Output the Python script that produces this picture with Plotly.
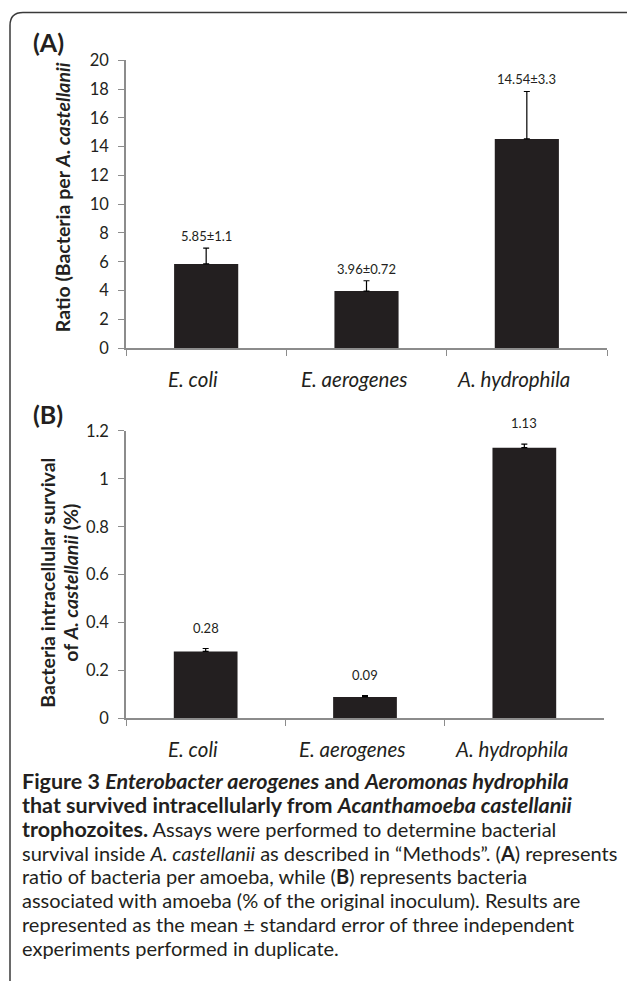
import plotly.graph_objects as go

categories = ["E. coli", "E. aerogenes", "A. hydrophila"]
ratio_mean = [5.85, 3.96, 14.54]
ratio_err = [1.1, 0.72, 3.3]
ratio_labels = ["5.85±1.1", "3.96±0.72", "14.54±3.3"]
surv_mean = [0.28, 0.09, 1.13]
surv_err = [0.012, 0.005, 0.015]
surv_labels = ["0.28", "0.09", "1.13"]
ratio_ticks = [0, 2, 4, 6, 8, 10, 12, 14, 16, 18, 20]
surv_ticks = [0, 0.2, 0.4, 0.6, 0.8, 1, 1.2]
surv_ticktext = ["0", "0.2", "0.4", "0.6", "0.8", "1", "1.2"]

BIG = '<span style="font-size:21.5px">'
caption_lines = [
    BIG + "<b>Figure 3 <i>Enterobacter aerogenes</i> and <i>Aeromonas hydrophila</i></b></span>",
    BIG + "<b>that survived intracellularly from <i>Acanthamoeba castellanii</i></b></span>",
    BIG + "<b>trophozoites.</b></span> Assays were performed to determine bacterial",
    "survival inside <i>A. castellanii</i> as described in “Methods”. (<b>A</b>) represents",
    "ratio of bacteria per amoeba, while (<b>B</b>) represents bacteria",
    "associated with amoeba (% of the original inoculum). Results are",
    "represented as the mean ± standard error of three independent",
    "experiments performed in duplicate.",
]

W, H = 627, 981
# the captured page shows the figure with a small top offset and slight
# vertical squeeze; target positions are given in picture pixels
OFF, SQ = 9.5, 0.981
FONT = "Lato"
BAR = "#231f20"
AXC = "#8c8c8c"
TXT = "#231f20"


def px(x):
    return x / W


def py(y):
    return 1 - ((y - OFF) / SQ) / H


fig = go.Figure()
fig.add_trace(go.Bar(
    x=categories, y=ratio_mean, marker=dict(color=BAR, line=dict(width=0)),
    width=0.4,
    error_y=dict(type="data", array=ratio_err, arrayminus=[0] * 3, symmetric=False,
                 color="black", thickness=1.2, width=3),
    xaxis="x", yaxis="y", showlegend=False, hoverinfo="skip"))
fig.add_trace(go.Bar(
    x=categories, y=surv_mean, marker=dict(color=BAR, line=dict(width=0)),
    width=0.4,
    error_y=dict(type="data", array=surv_err, arrayminus=[0] * 3, symmetric=False,
                 color="black", thickness=1.2, width=3),
    xaxis="x2", yaxis="y2", showlegend=False, hoverinfo="skip"))

xcommon = dict(type="category", showline=True, linecolor=AXC, linewidth=1.5,
               ticks="outside", ticklen=6, tickcolor=AXC, tickwidth=1.2,
               tickson="boundaries", showgrid=False, zeroline=False,
               showticklabels=False)
ycommon = dict(showline=True, linecolor=AXC, linewidth=1.5, ticks="outside",
               ticklen=6, tickcolor=AXC, tickwidth=1.2, showgrid=False,
               zeroline=False, tickfont=dict(family=FONT, size=16.5, color=TXT),
               ticklabelstandoff=6)

fig.update_layout(
    width=W, height=H, margin=dict(l=0, r=0, t=0, b=0),
    paper_bgcolor="white", plot_bgcolor="white",
    xaxis=dict(domain=[px(126), px(607)], anchor="y", **xcommon),
    yaxis=dict(domain=[py(348), py(60)], range=[0, 20], tickvals=ratio_ticks,
               anchor="x", **ycommon),
    xaxis2=dict(domain=[px(126), px(604)], anchor="y2", **xcommon),
    yaxis2=dict(domain=[py(719), py(431)], range=[0, 1.2], tickvals=surv_ticks,
                ticktext=surv_ticktext, anchor="x2", **ycommon),
)

ann = []
# category labels (sit slightly left of bar centres in the original)
for xa, ya in (("x", "y"), ("x2", "y2")):
    for c in categories:
        ann.append(dict(x=c, y=0, xref=xa, yref=ya, text=c, showarrow=False,
                        xanchor="center", yanchor="top", xshift=-13, yshift=-17,
                        font=dict(family=FONT, size=20.5, color=TXT, style="italic")))
for c, m, e, t in zip(categories, ratio_mean, ratio_err, ratio_labels):
    ann.append(dict(x=c, y=m + e, xref="x", yref="y", text=t, showarrow=False,
                    xanchor="center", yanchor="bottom", yshift=2,
                    font=dict(family=FONT, size=13, color=TXT)))
for c, m, e, t in zip(categories, surv_mean, surv_err, surv_labels):
    ann.append(dict(x=c, y=m + e, xref="x2", yref="y2", text=t, showarrow=False,
                    xanchor="center", yanchor="bottom", yshift=11,
                    font=dict(family=FONT, size=13, color=TXT)))

ann.append(dict(x=px(48), y=py(42), xref="paper", yref="paper", text="<b>(A)</b>",
                xanchor="center", yanchor="middle",
                showarrow=False, font=dict(family=FONT, size=25, color=TXT)))
ann.append(dict(x=px(48), y=py(414), xref="paper", yref="paper", text="<b>(B)</b>",
                xanchor="center", yanchor="middle",
                showarrow=False, font=dict(family=FONT, size=25, color=TXT)))
ann.append(dict(x=px(62), y=py(197), xref="paper", yref="paper", textangle=-90,
                xanchor="center", yanchor="middle",
                text="<b>Ratio (Bacteria per <i>A. castellanii</i></b>",
                showarrow=False, font=dict(family=FONT, size=19.5, color=TXT)))
ann.append(dict(x=px(48), y=py(583), xref="paper", yref="paper", textangle=-90,
                xanchor="center", yanchor="middle",
                text="<b>Bacteria intracellular survival</b>",
                showarrow=False, font=dict(family=FONT, size=19.5, color=TXT)))
ann.append(dict(x=px(71), y=py(583), xref="paper", yref="paper", textangle=-90,
                xanchor="center", yanchor="middle",
                text="<b>of <i>A. castellanii</i> (%)</b>",
                showarrow=False, font=dict(family=FONT, size=19.5, color=TXT)))

caption_y = [782, 806, 830, 854, 877, 901, 925, 949]
for yy, line in zip(caption_y, caption_lines):
    ann.append(dict(x=px(20), y=py(yy), xref="paper", yref="paper",
                    xanchor="left", yanchor="middle", text=line, showarrow=False,
                    align="left", font=dict(family=FONT, size=20, color=TXT)))

fig.update_layout(annotations=ann)

# rounded border frame
r = 13
path = (f"M {px(10)},{py(995)} L {px(10)},{py(12 + r)} "
        f"Q {px(10)},{py(12)} {px(10 + r)},{py(12)} L {px(627)},{py(12)}")
fig.add_shape(type="path", path=path, xref="paper", yref="paper",
              line=dict(color="#3a3a3a", width=1.5))

post = ("var d=document.getElementById('{plot_id}');"
        "d.style.position='absolute';d.style.top='0px';d.style.left='0px';"
        "document.documentElement.style.margin='0';document.body.style.margin='0';"
        "document.documentElement.style.overflow='hidden';document.body.style.overflow='hidden';")
fig.write_html("out.html", config={"displayModeBar": False}, post_script=post)
